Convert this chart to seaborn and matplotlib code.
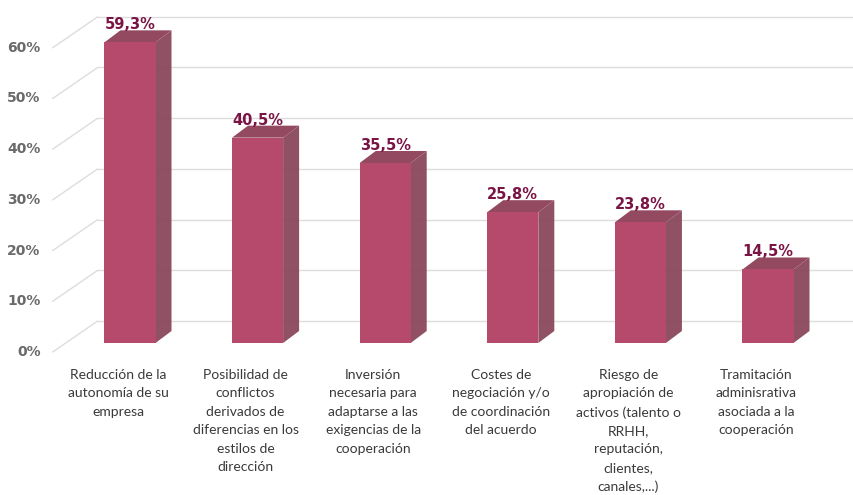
import matplotlib
matplotlib.use("Agg")
import matplotlib.pyplot as plt
import seaborn as sns
import pandas as pd
from matplotlib.patches import Polygon
from matplotlib.lines import Line2D
from matplotlib.transforms import IdentityTransform

# Datos
categorias = [
    "Reducción de la\nautonomía de su\nempresa",
    "Posibilidad de\nconflictos\nderivados de\ndiferencias en los\nestilos de\ndirección",
    "Inversión\nnecesaria para\nadaptarse a las\nexigencias de la\ncooperación",
    "Costes de\nnegociación y/o\nde coordinación\ndel acuerdo",
    "Riesgo de\napropiación de\nactivos (talento o\nRRHH,\nreputación,\nclientes,\ncanales,...)",
    "Tramitación\nadminisrativa\nasociada a la\ncooperación",
]
valores = [59.3, 40.5, 35.5, 25.8, 23.8, 14.5]
etiquetas = ["59,3%", "40,5%", "35,5%", "25,8%", "23,8%", "14,5%"]
ticks_y = [0, 10, 20, 30, 40, 50, 60]

df = pd.DataFrame({"cat": categorias, "val": valores})

# Colores
c_frente = "#b64a6c"
c_lado = "#8a475c"
c_tapa = "#934a61"
c_grid = "#dddddd"

sns.set_style("white")

fig = plt.figure(figsize=(8.54, 4.95), dpi=100)
ax = fig.add_axes([0.0775, 0.3071, 0.8965, 0.6929])

sns.barplot(data=df, x="cat", y="val", color=c_frente, saturation=1,
            width=0.40, ax=ax, zorder=3, edgecolor="none", linewidth=0)
ax.set_xlim(-0.5, 5.5)
ax.set_ylim(0, 67.65)
ax.set_axis_off()
ax.autoscale(False)

# desplazamientos (pixeles) para el efecto 3D
prof_bar = (16, 12)      # fondo de la barra
pared = (31.5, 22)       # pared del fondo
frente = (-13.5, -9)     # plano frontal
idt = IdentityTransform()

# Rejilla en la pared y diagonales del suelo lateral
for t in ticks_y:
    xb, yb = ax.transData.transform((-0.5, t))
    ax.add_artist(Line2D([xb + pared[0], 900], [yb + pared[1]] * 2,
                         transform=idt, color=c_grid, lw=1.0, zorder=1, clip_on=False))
    ax.add_artist(Line2D([xb + frente[0], xb + pared[0]], [yb + frente[1], yb + pared[1]],
                         transform=idt, color=c_grid, lw=1.0, zorder=1, clip_on=False))
    ax.annotate(f"{t}%", xy=(-0.5, t), xytext=(frente[0] - 12, frente[1]),
                textcoords="offset pixels", ha="right", va="center",
                fontsize=10, fontweight="bold", color="#6a6a6a", annotation_clip=False)

# Caras laterales y superiores de las barras
for p in ax.patches:
    x0, y0 = ax.transData.transform((p.get_x(), 0))
    x1, y1 = ax.transData.transform((p.get_x() + p.get_width(), p.get_height()))
    dx, dy = prof_bar
    lado = Polygon([(x1, y0), (x1 + dx, y0 + dy), (x1 + dx, y1 + dy), (x1, y1)],
                   closed=True, transform=idt, facecolor=c_lado, edgecolor="none",
                   alpha=0.95, zorder=2)
    tapa = Polygon([(x0, y1), (x1, y1), (x1 + dx, y1 + dy), (x0 + dx, y1 + dy)],
                   closed=True, transform=idt, facecolor=c_tapa, edgecolor="none",
                   zorder=2)
    ax.add_artist(lado)
    ax.add_artist(tapa)

# Etiquetas de valor y de categoria
for i, (v, e) in enumerate(zip(valores, etiquetas)):
    ax.annotate(e, xy=(i, v), xytext=(0, 10), textcoords="offset pixels",
                ha="center", va="bottom", fontsize=10.5, fontweight="bold",
                color="#7a1445", annotation_clip=False)
    ax.annotate(categorias[i], xy=(i, 0), xytext=(-12, -26), textcoords="offset pixels",
                ha="center", va="top", multialignment="center", fontsize=10,
                family="Lato", color="#3a3a3a", linespacing=1.64, annotation_clip=False)

fig.savefig("out.png", dpi=100)
